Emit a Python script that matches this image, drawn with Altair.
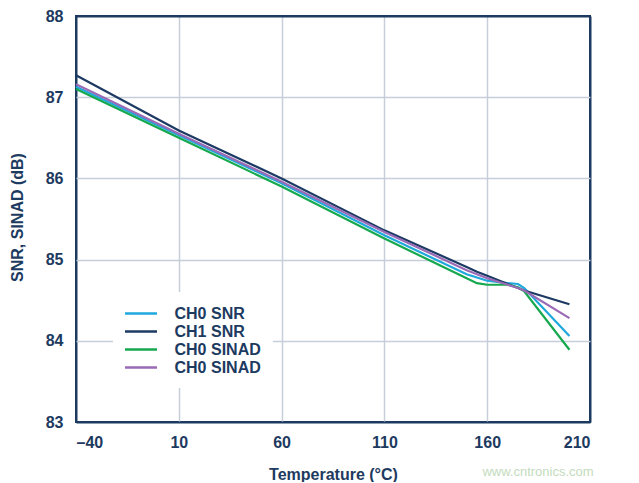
import altair as alt
import pandas as pd

temps = [-40, 10, 60, 110, 150, 155, 160, 170, 175, 178, 200]
ch0_snr = [87.13, 86.53, 85.94, 85.30, 84.82, 84.78, 84.74, 84.71, 84.70, 84.65, 84.06]
ch1_snr = [87.27, 86.59, 86.00, 85.36, 84.91, 84.85, 84.80, 84.70, 84.65, 84.62, 84.45]
ch0_sinad = [87.10, 86.50, 85.90, 85.26, 84.77, 84.71, 84.69, 84.69, 84.66, 84.61, 83.89]
ch1_sinad = [87.16, 86.55, 85.96, 85.34, 84.87, 84.82, 84.77, 84.69, 84.65, 84.62, 84.28]

series_keys = ["CH0 SNR", "CH1 SNR", "CH0 SINAD", "CH1 SINAD"]
series_colors = ["#1ea8dc", "#1c3a63", "#16a84e", "#9a6ab6"]
x_ticks = [-40, 10, 60, 110, 160, 210]
y_ticks = [83, 84, 85, 86, 87, 88]

rows = []
for key, vals in zip(series_keys, [ch0_snr, ch1_snr, ch0_sinad, ch1_sinad]):
    for t, v in zip(temps, vals):
        rows.append({"temp": t, "db": v, "series": key})
df = pd.DataFrame(rows)

navy = "#1d3a60"
grid = "#c6ced9"
font = "Liberation Sans"

lines = alt.Chart(df).mark_line(strokeWidth=2.2).encode(
    x=alt.X(
        "temp:Q",
        scale=alt.Scale(domain=[-40, 210], nice=False, zero=False),
        axis=alt.Axis(
            values=x_ticks,
            title="Temperature (°C)",
            labelExpr="datum.value < 0 ? '\u2013' + abs(datum.value) : '' + datum.value",
            titleY=57,
            titleBaseline="alphabetic",
            labelPadding=12,
            gridColor=alt.condition("datum.value == -40 || datum.value == 210", alt.value(navy), alt.value(grid)),
            gridWidth=alt.condition("datum.value == -40 || datum.value == 210", alt.value(2), alt.value(1.5)),
        ),
    ),
    y=alt.Y(
        "db:Q",
        scale=alt.Scale(domain=[83, 88], nice=False, zero=False),
        axis=alt.Axis(
            values=y_ticks,
            title="SNR, SINAD (dB)",
            titleX=-59,
            titleY=201,
            titleBaseline="middle",
            labelPadding=13,
            gridColor=alt.condition("datum.value == 83 || datum.value == 88", alt.value(navy), alt.value(grid)),
            gridWidth=alt.condition("datum.value == 83 || datum.value == 88", alt.value(2), alt.value(1.5)),
        ),
    ),
    color=alt.Color(
        "series:N",
        scale=alt.Scale(domain=series_keys, range=series_colors),
        title=None,
        legend=alt.Legend(
            orient="none",
            legendX=37,
            legendY=276,
            padding=12,
            fillColor="white",
            symbolType="M-2,0H2",
            symbolSize=256,
            symbolStrokeWidth=2.5,
            symbolOffset=6.5,
            labelOffset=24,
            rowPadding=0,
            labelExpr="datum.label == 'CH1 SINAD' ? 'CH0 SINAD' : datum.label",
        ),
    ),
)

watermark = alt.Chart(pd.DataFrame({"t": ["www.cntronics.com"]})).mark_text(
    font=font, fontSize=13, color="#c3dbbd", align="center", baseline="alphabetic"
).encode(
    text="t:N",
    x=alt.value(462),
    y=alt.value(460),
)

chart = alt.layer(lines, watermark).properties(
    width=514,
    height=406,
    autosize=alt.AutoSizeParams(type="none"),
    padding={"left": 68, "top": 8, "right": 40, "bottom": 60},
).configure(
    font=font,
).configure_view(
    stroke=navy,
    strokeWidth=2,
).configure_axis(
    domain=False,
    ticks=False,
    grid=True,
    labelFont=font,
    labelFontSize=16,
    labelFontWeight="bold",
    labelColor=navy,
    titleFont=font,
    titleFontSize=16,
    titleFontWeight="bold",
    titleColor=navy,
).configure_legend(
    labelFont=font,
    labelFontSize=16,
    labelFontWeight="bold",
    labelColor=navy,
)

chart.save("out.html", embed_options={"renderer": "svg", "actions": False})
